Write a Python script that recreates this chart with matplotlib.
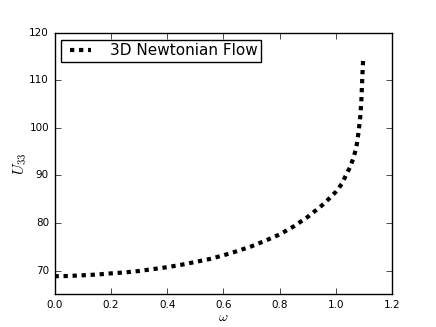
import matplotlib
matplotlib.use("Agg")
import matplotlib.pyplot as plt

plt.style.use('classic')
plt.rcParams['lines.scale_dashes'] = False

omega = [0.0, 0.05, 0.1, 0.15, 0.2, 0.25, 0.3, 0.35, 0.4, 0.45, 0.5, 0.55, 0.6,
         0.65, 0.7, 0.75, 0.8, 0.85, 0.9, 0.925, 0.95, 0.975, 1.0, 1.02, 1.035,
         1.05, 1.06, 1.07, 1.075, 1.08, 1.086, 1.09, 1.092, 1.094, 1.096]
u33 = [68.8, 68.85, 69.0, 69.15, 69.4, 69.6, 69.9, 70.3, 70.7, 71.2, 71.8, 72.4, 73.2,
       74.1, 75.1, 76.3, 77.6, 79.3, 81.3, 82.5, 83.7, 85.1, 86.6, 88.2, 90.0,
       91.8, 93.4, 95.4, 97.0, 99.2, 102.4, 106.0, 109.0, 111.8, 114.4]

series_label = "3D Newtonian Flow"
xlim = (0.0, 1.2)
ylim = (65, 120)

fig = plt.figure(figsize=(4.36, 3.27), dpi=100, facecolor='white')
ax = fig.add_subplot(111)
ax.plot(omega, u33, color='black', linewidth=3, linestyle=(0, (3.1, 3.4)),
        dash_capstyle='butt', label=series_label)
ax.set_xlim(*xlim)
ax.set_ylim(*ylim)
ax.tick_params(labelsize=7.5)
ax.set_xlabel(r'$\omega$', fontsize=10, labelpad=0)
ax.set_ylabel(r'$U_{33}$', fontsize=11, labelpad=0)
leg = ax.legend(loc='upper left', fontsize=11, handlelength=2.0,
                borderpad=0.25, borderaxespad=0.45, handletextpad=0.9)
fig.savefig('out.png', dpi=100, facecolor='white')
